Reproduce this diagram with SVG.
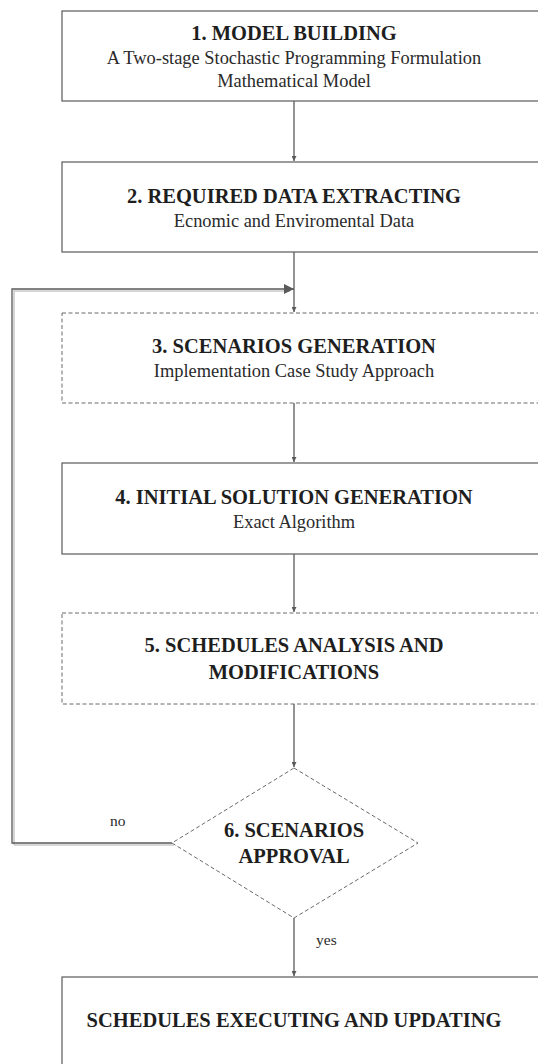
<svg xmlns="http://www.w3.org/2000/svg" width="538" height="1064" viewBox="0 0 538 1064">
<defs>
<style>
.box{fill:#fff;stroke:#5a5a5a;stroke-width:1.2}
.dash{fill:#fff;stroke:#6a6a6a;stroke-width:1;stroke-dasharray:4,2.5}
.t{font-family:"Liberation Serif","Times New Roman",serif;font-weight:bold;font-size:20.5px;fill:#1e1e1e;text-anchor:middle}
.s{font-family:"Liberation Serif","Times New Roman",serif;font-size:18.4px;fill:#2a2a2a;text-anchor:middle}
.lbl{font-family:"Liberation Serif","Times New Roman",serif;font-size:15.5px;fill:#2a2a2a}
.con{fill:none;stroke:#5a5a5a;stroke-width:1.3}
.shadow{fill:none;stroke:#c8c8c8;stroke-width:1.5}
</style>
<marker id="ah" viewBox="0 0 10 10" refX="10" refY="5" markerWidth="5" markerHeight="5" orient="auto" markerUnits="userSpaceOnUse">
<path d="M0,0 L10,5 L0,10 z" fill="#5a5a5a"/>
</marker>
<marker id="ah2" viewBox="0 0 10 10" refX="10" refY="5" markerWidth="10" markerHeight="10" orient="auto" markerUnits="userSpaceOnUse">
<path d="M0,0 L10,5 L0,10 z" fill="#5a5a5a"/>
</marker>
</defs>
<rect width="538" height="1064" fill="#fff"/>
<g id="connectors">
<line class="con" x1="294" y1="101" x2="294" y2="161" marker-end="url(#ah)"/>
<line class="con" x1="294" y1="252" x2="294" y2="312" marker-end="url(#ah)"/>
<polyline class="shadow" points="14,845 14,291 290,291"/>
<polyline class="shadow" points="14,845 174,845"/>
<polyline class="con" points="172,843 12,843 12,289 294,289" marker-end="url(#ah2)"/>
<line class="con" x1="294" y1="403" x2="294" y2="462" marker-end="url(#ah)"/>
<line class="con" x1="294" y1="554" x2="294" y2="612" marker-end="url(#ah)"/>
<line class="con" x1="294" y1="704" x2="294" y2="767" marker-end="url(#ah)"/>
<line class="con" x1="294" y1="918" x2="294" y2="976" marker-end="url(#ah)"/>
<text class="lbl" x="110" y="826">no</text>
<text class="lbl" x="316" y="945">yes</text>
</g>
<g id="n1">
<rect class="box" x="62" y="11" width="490" height="90"/>
<text class="t" x="294" y="40">1. MODEL BUILDING</text>
<text class="s" x="294" y="64">A Two-stage Stochastic Programming Formulation</text>
<text class="s" x="294" y="87">Mathematical Model</text>
</g>
<g id="n2">
<rect class="box" x="62" y="162" width="490" height="90"/>
<text class="t" x="294" y="203">2. REQUIRED DATA EXTRACTING</text>
<text class="s" x="294" y="227">Ecnomic and Enviromental Data</text>
</g>
<g id="n3">
<rect class="dash" x="62" y="313" width="490" height="90"/>
<text class="t" x="294" y="353">3. SCENARIOS GENERATION</text>
<text class="s" x="294" y="377">Implementation Case Study Approach</text>
</g>
<g id="n4">
<rect class="box" x="62" y="463" width="490" height="91"/>
<text class="t" x="294" y="504">4. INITIAL SOLUTION GENERATION</text>
<text class="s" x="294" y="528">Exact Algorithm</text>
</g>
<g id="n5">
<rect class="dash" x="62" y="613" width="490" height="91"/>
<text class="t" x="294" y="652">5. SCHEDULES ANALYSIS AND</text>
<text class="t" x="294" y="679">MODIFICATIONS</text>
</g>
<g id="n6">
<polygon class="dash" points="294,768 418,843 294,918 172,843"/>
<text class="t" x="294" y="837">6. SCENARIOS</text>
<text class="t" x="294" y="863">APPROVAL</text>
</g>
<g id="n7">
<rect class="box" x="62" y="977" width="490" height="100"/>
<text class="t" x="294" y="1027">SCHEDULES EXECUTING AND UPDATING</text>
</g>
</svg>
